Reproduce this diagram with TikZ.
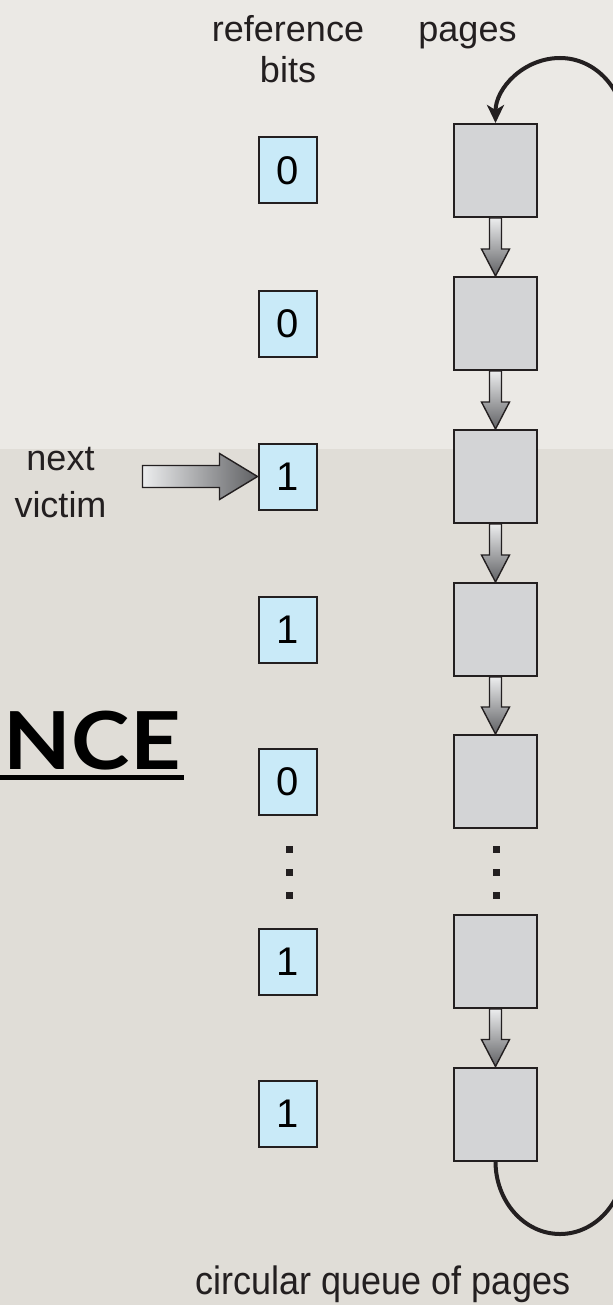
\documentclass[tikz,border=0pt]{standalone}
\usepackage{fontspec}
\setmainfont{Liberation Sans}
\newfontfamily\titlefont{Lato}
\usetikzlibrary{arrows.meta}
\definecolor{bgupper}{RGB}{235,233,229}
\definecolor{bglower}{RGB}{224,221,215}
\definecolor{bitfill}{RGB}{201,234,248}
\definecolor{pagefill}{RGB}{211,212,214}
\definecolor{inkdark}{RGB}{35,31,32}
\definecolor{shadelight}{RGB}{236,237,238}
\definecolor{shadedark}{RGB}{96,97,100}
\tikzset{
  bitbox/.style={draw=inkdark, line width=1pt, fill=bitfill, minimum width=29pt, minimum height=33pt, inner sep=0pt, font=\fontsize{20}{24}\selectfont},
  pagebox/.style={draw=inkdark, line width=1pt, fill=pagefill, minimum width=41.5pt, minimum height=46.5pt, inner sep=0pt},
  lbl/.style={font=\fontsize{18}{22}\selectfont, text=inkdark, inner sep=0pt},
  blockdown/.style={draw=inkdark, line width=0.7pt, line join=miter, top color=shadelight, bottom color=shadedark},
  blockright/.style={draw=inkdark, line width=0.7pt, line join=miter, left color=shadelight, right color=shadedark},
  loopline/.style={draw=inkdark, line width=2pt, -{Stealth[length=9pt,width=8.5pt,inset=2.5pt]}},
  dotsq/.style={fill=inkdark, minimum size=3.5pt, inner sep=0pt},
}
\begin{document}
\begin{tikzpicture}[x=0.5pt,y=-0.5pt]
\useasboundingbox (0,0) rectangle (613,1305);
\fill[bgupper] (0,0) rectangle (613,449);
\fill[bglower] (0,449) rectangle (613,1305);

% title fragment
\node[anchor=base east, inner sep=0pt, font=\titlefont\bfseries\fontsize{40}{44}\selectfont, xscale=1.1] (title) at (181,769) {NCE};
\fill[black] (0,775) rectangle (184,779.5);

% labels
\node[lbl, anchor=base] (lref) at (288,42) {reference};
\node[lbl, anchor=base] (lbits) at (288,83) {bits};
\node[lbl, anchor=base] (lpages) at (467.5,42) {pages};
\node[lbl, anchor=base] (lnext) at (60.5,470) {next};
\node[lbl, anchor=base] (lvictim) at (60.5,517) {victim};
\node[lbl, anchor=base, yscale=1.1] (lqueue) at (383,1294) {circular queue of pages};

% pages
\node[pagebox] (p1) at (495.5,170.5) {};
\node[pagebox] (p2) at (495.5,323.5) {};
\node[pagebox] (p3) at (495.5,476.5) {};
\node[pagebox] (p4) at (495.5,629.5) {};
\node[pagebox] (p5) at (495.5,781.5) {};
\node[pagebox] (p6) at (495.5,961.5) {};
\node[pagebox] (p7) at (495.5,1114) {};

% reference bits
\node[bitbox] (b1) at (287.5,170.5) {0};
\node[bitbox] (b2) at (287.5,323.5) {0};
\node[bitbox] (b3) at (287.5,476.5) {1};
\node[bitbox] (b4) at (287.5,629.5) {1};
\node[bitbox] (b5) at (287.5,781.5) {0};
\node[bitbox] (b6) at (287.5,961.5) {1};
\node[bitbox] (b7) at (287.5,1114) {1};

% dots
\foreach \yy [count=\i] in {849,872,895} {
  \node[dotsq] (ld\i) at (289,\yy) {};
  \node[dotsq] (rd\i) at (496,\yy) {};
}

% block arrows between pages
\foreach \a/\b in {p1/p2,p2/p3,p3/p4,p4/p5,p6/p7} {
  \path[blockdown] ([xshift=-3pt]\a.south) -- ([xshift=-3pt,yshift=13.5pt]\b.north)
    -- ([xshift=-7pt,yshift=13.5pt]\b.north) -- (\b.north)
    -- ([xshift=7pt,yshift=13.5pt]\b.north) -- ([xshift=3pt,yshift=13.5pt]\b.north)
    -- ([xshift=3pt]\a.south) -- cycle;
}

% next victim arrow
\path[blockright] ([xshift=-57.5pt,yshift=5.5pt]b3.west) -- ([xshift=-19pt,yshift=5.5pt]b3.west)
  -- ([xshift=-19pt,yshift=11.5pt]b3.west) -- (b3.west)
  -- ([xshift=-19pt,yshift=-11.5pt]b3.west) -- ([xshift=-19pt,yshift=-5.5pt]b3.west)
  -- ([xshift=-57.5pt,yshift=-5.5pt]b3.west) -- cycle;

% circular loop
\begin{scope}
\clip (0,0) rectangle (613,1305);
\draw[loopline] (p7.south) .. controls (495.5,1201) and (524,1234) .. (560,1234)
  .. controls (596,1234) and (625,1201) .. (625,1160)
  -- (625,130)
  .. controls (625,90) and (596,58) .. (560,58)
  .. controls (524,58) and (495.5,88) .. (p1.north);
\end{scope}
\end{tikzpicture}
\end{document}
